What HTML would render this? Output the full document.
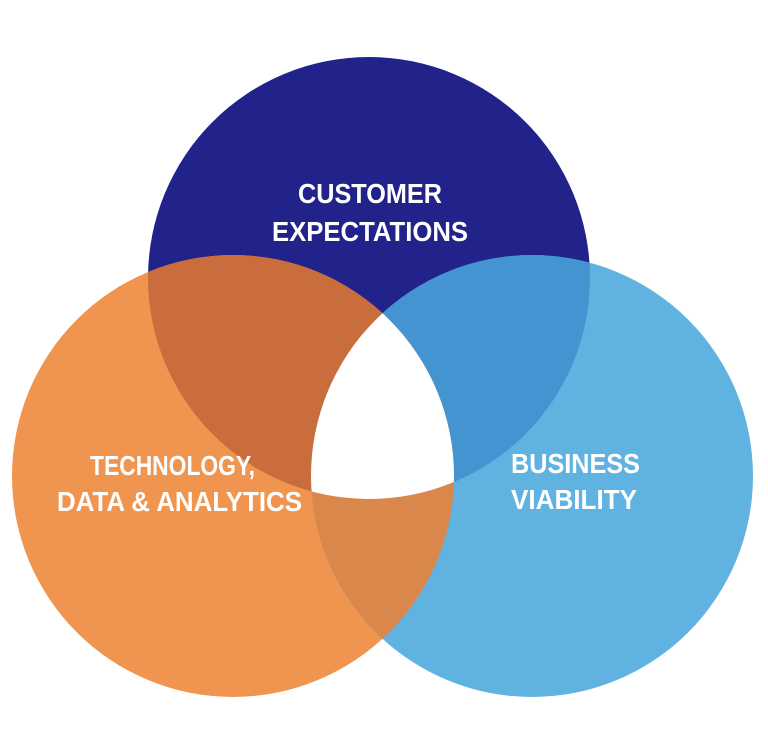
<!DOCTYPE html>
<html><head><meta charset="utf-8"><style>html,body{margin:0;padding:0;background:#fff;}svg{display:block}</style></head>
<body>
<svg width="768" height="738" viewBox="0 0 768 738" xmlns="http://www.w3.org/2000/svg">
<defs>
<clipPath id="cT"><circle cx="369" cy="278" r="221"/></clipPath>
<clipPath id="cL"><circle cx="233" cy="476" r="221"/></clipPath>
<clipPath id="cR"><circle cx="532" cy="476" r="221"/></clipPath>
</defs>
<circle cx="369" cy="278" r="221" fill="#22238a"/>
<circle cx="233" cy="476" r="221" fill="#f0954f"/>
<circle cx="532" cy="476" r="221" fill="#60b3e0"/>
<g clip-path="url(#cT)"><circle cx="233" cy="476" r="221" fill="#c96d3c"/><circle cx="532" cy="476" r="221" fill="#4394d0"/></g>
<g clip-path="url(#cL)"><circle cx="532" cy="476" r="221" fill="#d9874b"/></g>
<g clip-path="url(#cT)"><g clip-path="url(#cL)"><circle cx="532" cy="476" r="221" fill="#ffffff"/></g></g>
<g font-family="'Liberation Sans Narrow','Liberation Sans',sans-serif" font-weight="bold" font-size="28" fill="#fff">
<text x="298" y="203" textLength="144" lengthAdjust="spacingAndGlyphs">CUSTOMER</text>
<text x="272" y="241" textLength="196" lengthAdjust="spacingAndGlyphs">EXPECTATIONS</text>
<text x="90" y="475" textLength="165" lengthAdjust="spacingAndGlyphs">TECHNOLOGY,</text>
<text x="57" y="511" textLength="245" lengthAdjust="spacingAndGlyphs">DATA &amp; ANALYTICS</text>
<text x="511" y="473" textLength="129" lengthAdjust="spacingAndGlyphs">BUSINESS</text>
<text x="511" y="509" textLength="126" lengthAdjust="spacingAndGlyphs">VIABILITY</text>
</g>
</svg>
</body></html>
